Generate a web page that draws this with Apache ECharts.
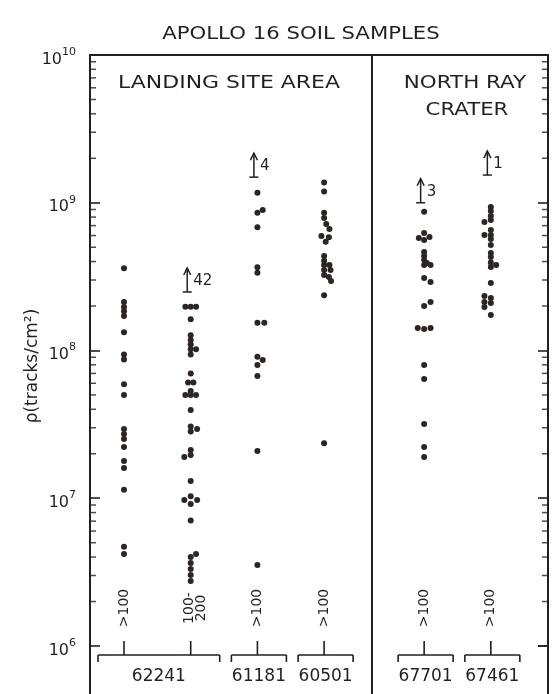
<!DOCTYPE html>
<html><head><meta charset="utf-8">
<script src="https://cdn.jsdelivr.net/npm/echarts@6/dist/echarts.min.js"></script>
<style>html,body{margin:0;padding:0;background:#fff}#c{width:558px;height:694px}</style>
</head><body><div id="c"></div>
<script>
// ---------------- data ----------------
const columns = ['62241 >100', '62241 100-200', '61181 >100', '60501 >100', '67701 >100', '67461 >100'];
const sizeLabels = ['>100', '100-\n200', '>100', '>100', '>100', '>100'];
const samples = ['62241', '61181', '60501', '67701', '67461'];
const sampleFirstColumn = [0, 2, 3, 4, 5];
const sampleLastColumn = [1, 2, 3, 4, 5];
const yTickValues = [1e6, 1e7, 1e8, 1e9, 1e10];
const yTickExponents = ['6', '7', '8', '9', '10'];
const yMinorMantissas = [2, 3, 4, 5, 6, 7, 8, 9];
const titleText = 'APOLLO 16 SOIL SAMPLES';
const regionLabels = ['LANDING SITE AREA', 'NORTH RAY', 'CRATER'];
const yAxisTitle = 'ρ(tracks/cm²)';

// track densities (tracks/cm^2), one array per column; slots = side-by-side index of overlapping dots
const rho62241a = [3.6e8, 2.13e8, 1.97e8, 1.84e8, 1.71e8, 1.33e8, 9.4e7, 8.7e7, 5.9e7, 5.0e7, 2.94e7, 2.72e7, 2.52e7, 2.22e7, 1.79e7, 1.6e7, 1.14e7, 4.7e6, 4.2e6];
const slot62241a = [0, 0, 0, 0, 0, 0, 0, 0, 0, 0, 0, 0, 0, 0, 0, 0, 0, 0, 0];

const rho62241b = [1.98e8, 1.98e8, 1.98e8, 1.63e8, 1.27e8, 1.18e8, 1.10e8, 1.02e8, 1.02e8, 9.4e7, 7.0e7, 6.07e7, 6.07e7, 5.32e7, 5.0e7, 5.0e7, 5.0e7, 3.96e7, 3.06e7, 2.94e7, 2.83e7, 2.12e7, 1.96e7, 1.90e7, 1.31e7, 1.03e7, 9.73e6, 9.73e6, 9.14e6, 7.07e6, 4.2e6, 4.0e6, 3.65e6, 3.32e6, 3.02e6, 2.75e6];
const slot62241b = [-1, 0, 1, 0, 0, 0, 0, 0, 1, 0, 0, -0.5, 0.5, 0, -1, 0, 1, 0, 0, 1.2, 0, 0, 0, -1.2, 0, 0, -1.2, 1.2, 0, 0, 1, 0, 0, 0, 0, 0];

const rho61181 = [1.17e9, 8.93e8, 8.56e8, 6.82e8, 3.66e8, 3.36e8, 1.54e8, 1.54e8, 9.08e7, 8.62e7, 7.98e7, 6.72e7, 2.09e7, 3.53e6];
const slot61181 = [0, 1, 0, 0, 0, 0, 0, 1.3, 0, 1, 0, 0, 0, 0];

const rho60501 = [1.37e9, 1.19e9, 8.56e8, 7.88e8, 7.18e8, 6.64e8, 5.96e8, 5.84e8, 5.45e8, 4.36e8, 4.05e8, 3.79e8, 3.79e8, 3.50e8, 3.50e8, 3.24e8, 3.14e8, 2.95e8, 2.37e8, 2.36e7];
const slot60501 = [0, 0, 0, 0, 0.4, 1, -0.5, 0.9, 0.3, 0, 0, 0, 1, 0, 1.2, 0, 0.9, 1.3, 0, 0];

const rho67701 = [8.70e8, 6.24e8, 5.86e8, 5.77e8, 5.60e8, 4.64e8, 4.36e8, 4.10e8, 3.91e8, 3.79e8, 3.79e8, 3.10e8, 2.91e8, 2.13e8, 2.00e8, 1.42e8, 1.40e8, 1.42e8, 7.98e7, 6.41e7, 3.18e7, 2.22e7, 1.90e7];
const slot67701 = [0, 0, 1, -1, 0, 0, 0, 0, 0.5, 0, 1.2, 0, 1.2, 1.2, 0, -1.2, 0, 1.2, 0, 0, 0, 0, 0];

const rho67461 = [9.36e8, 8.80e8, 8.13e8, 7.64e8, 7.41e8, 6.54e8, 6.05e8, 6.05e8, 5.68e8, 5.18e8, 4.57e8, 4.29e8, 3.94e8, 3.79e8, 3.67e8, 2.86e8, 2.34e8, 2.27e8, 2.13e8, 2.10e8, 1.97e8, 1.74e8];
const slot67461 = [0, 0, 0, 0, -1.2, 0, -1.2, 0, 0, 0, 0, 0, 0, 1, 0, 0, -1.2, 0, -1.2, 0, -1.2, 0];

const columnValues = [rho62241a, rho62241b, rho61181, rho60501, rho67701, rho67461];
const columnSlots = [slot62241a, slot62241b, slot61181, slot60501, slot67701, slot67461];

// "off-scale" arrows: column, count label, value at arrow base
const arrowColumns = [1, 2, 4, 5];
const arrowCounts = ['42', '4', '3', '1'];
const arrowBaseValues = [2.49e8, 1.49e9, 1.0e9, 1.54e9];

// ---------------- layout ----------------
const COLUMN_X = [1, 2, 3, 4, 5.5, 6.5];
const X_MIN = 0.49, X_MAX = 7.357, DIVIDER_X = 4.718, SLOT = 0.08;
const Y_MIN = 1e6, Y_MAX = 1e10;
const INK = '#231f20';
const FONT = 'DejaVu Sans';

const chart = echarts.init(document.getElementById('c'), null, {renderer: 'canvas'});

function ln(x1, y1, x2, y2, w) {
  return {type: 'line', shape: {x1, y1, x2, y2}, style: {stroke: INK, lineWidth: w || 1.6}};
}
function txt(x, y, text, size, align, rot, lh) {
  return {type: 'text', x, y, rotation: rot || 0,
    style: {text, fill: INK, font: size + 'px "' + FONT + '"', align: align || 'center', verticalAlign: 'middle',
            textAlign: align || 'center', textVerticalAlign: 'middle', lineHeight: lh || size}};
}

const scatterSeries = columns.map((name, c) => ({
  name, type: 'scatter', symbol: 'circle', symbolSize: 6,
  itemStyle: {color: '#2b2624', opacity: 1},
  data: columnValues[c].map((v, i) => [COLUMN_X[c] + columnSlots[c][i] * SLOT, v]),
  z: 5
}));

// log-axis minor ticks (2..9 of each decade), inward on both frame sides
const minorTickValues = [];
yTickValues.slice(0, -1).forEach(d => yMinorMantissas.forEach(m => minorTickValues.push(m * d)));
const minorTickSeries = [[X_MIN, 3], [X_MAX, -3]].map(([xv, off]) => ({
  type: 'scatter', silent: true, clip: false, z: 6, symbol: 'rect', symbolSize: [6, 1.5], symbolOffset: [off, 0],
  itemStyle: {color: INK}, emphasis: {disabled: true}, tooltip: {show: false},
  data: minorTickValues.map(v => [xv, v])
}));

// frame extension below 10^6 and the region divider
const frameSeries = {
  type: 'custom', silent: true, clip: false, z: 3, data: [[1, Y_MIN]],
  renderItem(params, api) {
    const tl = api.coord([X_MIN, Y_MAX]);
    const br = api.coord([X_MAX, Y_MIN]);
    const dx = api.coord([DIVIDER_X, Y_MAX])[0];
    const H = api.getHeight();
    return {type: 'group', children: [
      ln(tl[0], br[1] - 1, tl[0], H, 2),
      ln(br[0], br[1] - 1, br[0], H, 2),
      ln(dx, tl[1], dx, H, 2)
    ]};
  }
};

const bracketSeries = {
  type: 'custom', silent: true, clip: false, z: 4, data: samples.map((s, i) => [COLUMN_X[sampleFirstColumn[i]], Y_MIN]),
  renderItem(params, api) {
    const i = params.dataIndex;
    const a = api.coord([COLUMN_X[sampleFirstColumn[i]], Y_MIN]);
    const b = api.coord([COLUMN_X[sampleLastColumn[i]], Y_MIN]);
    const base = a[1];
    const x0 = a[0] - 26, x1 = b[0] + 29;
    const kids = [ln(x0, base + 9, x1, base + 9), ln(x0, base + 9, x0, base + 16), ln(x1, base + 9, x1, base + 16)];
    for (let c = sampleFirstColumn[i]; c <= sampleLastColumn[i]; c++) {
      const p = api.coord([COLUMN_X[c], Y_MIN]);
      kids.push(ln(p[0], base - 5, p[0], base + 9));
      const multi = sizeLabels[c].indexOf('\n') >= 0;
      kids.push(txt(p[0] + (multi ? 5 : 0), base - 38, sizeLabels[c], 14, 'center', Math.PI / 2, 12));
    }
    kids.push(txt((x0 + x1) / 2, base + 31, samples[i], 17, 'center'));
    return {type: 'group', children: kids};
  }
};

const arrowSeries = {
  type: 'custom', silent: true, clip: false, z: 4, data: arrowColumns.map((c, i) => [COLUMN_X[c], arrowBaseValues[i]]),
  renderItem(params, api) {
    const i = params.dataIndex;
    const p = api.coord([COLUMN_X[arrowColumns[i]], arrowBaseValues[i]]);
    const x = p[0] - 3.5, yb = p[1], yt = yb - 24;
    return {type: 'group', children: [
      ln(x, yt, x, yb, 1.5),
      {type: 'polyline', shape: {points: [[x - 3.5, yt + 7], [x, yt], [x + 3.5, yt + 7]]}, style: {stroke: INK, fill: null, lineWidth: 1.5}},
      ln(x - 4.5, yb, x + 4.5, yb, 1.5),
      txt(x + 6, yb - 11, arrowCounts[i], 15, 'left')
    ]};
  }
};

const yAxisCommon = {
  type: 'log', logBase: 10, min: Y_MIN, max: Y_MAX,
  axisLine: {show: true, onZero: false, lineStyle: {color: INK, width: 2}},
  axisTick: {show: true, inside: true, length: 10, lineStyle: {color: INK, width: 1.6}},
  minorTick: {show: false},
  splitLine: {show: false}, minorSplitLine: {show: false}
};

function stretchedText(x, y, text, size, sx) {
  return {type: 'text', x, y, scaleX: sx, silent: true,
    style: {text, fill: INK, font: size + 'px "' + FONT + '"', textAlign: 'center', textVerticalAlign: 'middle', align: 'center', verticalAlign: 'middle'}};
}

chart.setOption({
  animation: false,
  backgroundColor: '#ffffff',
  grid: {left: 90, right: 10, top: 55, bottom: 48, containLabel: false},
  xAxis: {
    type: 'value', min: X_MIN, max: X_MAX, position: 'top',
    axisLine: {show: true, onZero: false, lineStyle: {color: INK, width: 2}},
    axisTick: {show: false}, axisLabel: {show: false}, splitLine: {show: false}
  },
  yAxis: [
    Object.assign({}, yAxisCommon, {
      position: 'left',
      axisLabel: {
        show: true, margin: 14,
        formatter: v => '{b|10}{s|' + yTickExponents[yTickValues.indexOf(v)] + '}',
        rich: {
          b: {fontSize: 16, fontFamily: FONT, color: INK, padding: [9, 0, 0, 0], lineHeight: 17},
          s: {fontSize: 11, fontFamily: FONT, color: INK, verticalAlign: 'top', lineHeight: 12}
        }
      }
    }),
    Object.assign({}, yAxisCommon, {position: 'right', axisLabel: {show: false}})
  ],
  graphic: [
    stretchedText(301, 34, titleText, 18, 1.18),
    stretchedText(229, 83, regionLabels[0], 18, 1.22),
    stretchedText(465, 83, regionLabels[1], 18, 1.19),
    stretchedText(467, 110, regionLabels[2], 18, 1.18),
    {type: 'text', x: 33, y: 366, rotation: Math.PI / 2, silent: true,
     style: {text: yAxisTitle, fill: INK, font: '17px "' + FONT + '"', textAlign: 'center', textVerticalAlign: 'middle', align: 'center', verticalAlign: 'middle'}}
  ],
  series: [frameSeries, bracketSeries, arrowSeries].concat(minorTickSeries, scatterSeries)
});
</script></body></html>
